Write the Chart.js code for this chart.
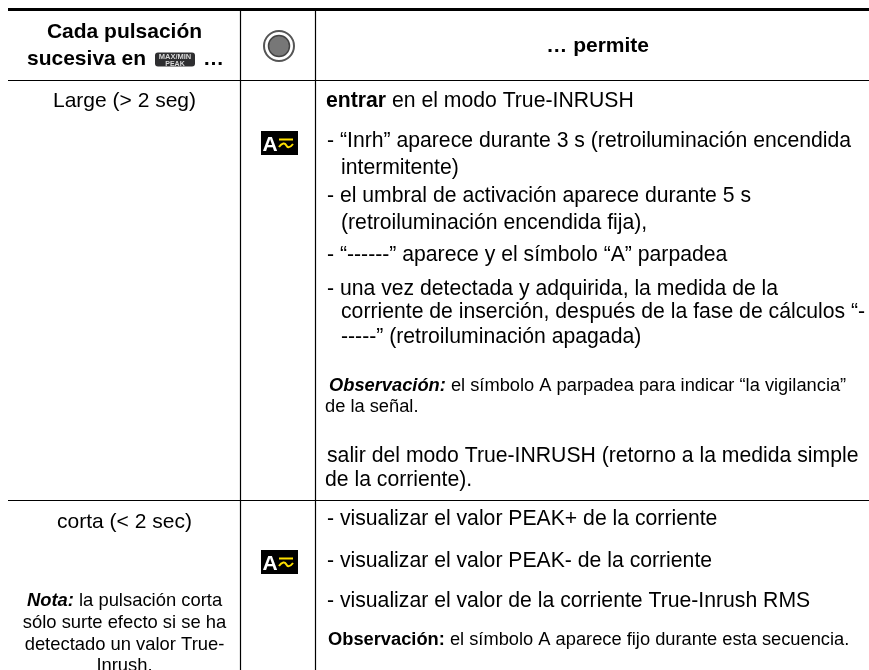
<!DOCTYPE html>
<html>
<head>
<meta charset="utf-8">
<title>Cada pulsación</title>
<script src="https://cdn.jsdelivr.net/npm/chart.js@4"></script>
<style>
body { margin: 0; background: #fff; }
canvas { display: block; }
</style>
</head>
<body>
<canvas id="tableChart" width="869" height="670"></canvas>
<script>
// table grid, in page units
const columnEdges = [240.5, 315.5];
const rowEdges = [80.5, 500.5];
const topRule = 9.5;
const tableLeft = 8;
const tableRight = 869;
const tableBottom = 670;

// <b> bold, <i> bold italic
const headerLeft = ["<b>Cada pulsación", "<b>sucesiva en"];
const headerRight = "<b>… permite";

const leftLines = ["Large (> 2 seg)", "corta (< 2 sec)"];
const leftLinesY = [107, 528];
const noteLines = ["<i>Nota:</i> la pulsación corta", "sólo surte efecto si se ha", "detectado un valor True-", "Inrush."];
const noteLinesY = [606, 628, 650, 671];

const rightLines = [
    "<b>entrar</b> en el modo True-INRUSH",
    "- “Inrh” aparece durante 3 s (retroiluminación encendida",
    "intermitente)",
    "- el umbral de activación aparece durante 5 s",
    "(retroiluminación encendida fija),",
    "- “------” aparece y el símbolo “A” parpadea",
    "- una vez detectada y adquirida, la medida de la",
    "corriente de inserción, después de la fase de cálculos “-",
    "-----” (retroiluminación apagada)",
    "salir del modo True-INRUSH (retorno a la medida simple",
    "de la corriente).",
    "- visualizar el valor PEAK+ de la corriente",
    "- visualizar el valor PEAK- de la corriente",
    "- visualizar el valor de la corriente True-Inrush RMS"
];
const rightLinesX = [326, 327, 341, 327, 341, 327, 327, 341, 341, 327, 325, 327, 327, 327];
const rightLinesY = [107, 147, 174, 202, 229, 261, 295, 318, 343, 462, 486, 525, 567, 607];

const smallLines = [
    "<i>Observación:</i> el símbolo A parpadea para indicar “la vigilancia”",
    "de la señal.",
    "<b>Observación:</b> el símbolo A aparece fijo durante esta secuencia."
];
const smallLinesX = [329, 325, 328];
const smallLinesY = [391, 412, 645];

const badgeTops = [131, 550];

const FONT = '"Liberation Sans", Arial, sans-serif';

function drawRich(ctx, line, x, y, size, align) {
    // split the line in runs of regular / bold / bold italic
    const parts = line.split(/(<b>|<\/b>|<i>|<\/i>)/);
    let style = "";
    const runs = [];
    for (const p of parts) {
        if (p === "<b>") style = "bold ";
        else if (p === "<i>") style = "italic bold ";
        else if (p === "</b>" || p === "</i>") style = "";
        else if (p !== "") runs.push({ text: p, font: style + size + "px " + FONT });
    }
    let width = 0;
    for (const r of runs) {
        ctx.font = r.font;
        r.width = ctx.measureText(r.text).width;
        width += r.width;
    }
    let cx = x;
    if (align === "center") cx = x - width / 2;
    if (align === "right") cx = x - width;
    ctx.textAlign = "left";
    ctx.textBaseline = "alphabetic";
    for (const r of runs) {
        ctx.font = r.font;
        ctx.fillText(r.text, cx, y);
        cx += r.width;
    }
}

function drawBadge(ctx, x, y) {
    ctx.fillStyle = "#000";
    ctx.fillRect(x, y, 37, 24);
    ctx.fillStyle = "#fff";
    ctx.font = "bold 21px " + FONT;
    ctx.textAlign = "left";
    ctx.fillText("A", x + 1.5, y + 20);
    ctx.strokeStyle = "#ffe000";
    ctx.lineWidth = 2;
    ctx.beginPath();
    ctx.moveTo(x + 18, y + 8.5);
    ctx.lineTo(x + 32, y + 8.5);
    ctx.moveTo(x + 18, y + 16);
    ctx.bezierCurveTo(x + 21, y + 11.5, x + 24, y + 12, x + 25, y + 14);
    ctx.bezierCurveTo(x + 26.5, y + 17, x + 29, y + 17, x + 32, y + 13);
    ctx.stroke();
}

function drawButton(ctx, x, y) {
    ctx.fillStyle = "#2e2e30";
    ctx.beginPath();
    ctx.roundRect(x, y, 40, 14, 3);
    ctx.fill();
    ctx.fillStyle = "#d8d8d8";
    ctx.font = "bold 7.5px " + FONT;
    ctx.textAlign = "center";
    ctx.fillText("MAX/MIN", x + 20, y + 6.5);
    ctx.font = "bold 7px " + FONT;
    ctx.fillText("PEAK", x + 20, y + 13);
}

function drawDial(ctx, x, y) {
    ctx.strokeStyle = "#555";
    ctx.lineWidth = 2;
    ctx.beginPath();
    ctx.arc(x, y, 15, 0, Math.PI * 2);
    ctx.stroke();
    ctx.fillStyle = "#777";
    ctx.strokeStyle = "#444";
    ctx.lineWidth = 1.5;
    ctx.beginPath();
    ctx.arc(x, y, 10.5, 0, Math.PI * 2);
    ctx.fill();
    ctx.stroke();
}

const tableText = {
    id: "tableText",
    afterDatasetsDraw(chart) {
        const ctx = chart.ctx;
        const sx = chart.scales.x;
        const sy = chart.scales.y;
        const px = v => sx.getPixelForValue(v);
        const py = v => sy.getPixelForValue(v);
        ctx.save();
        ctx.fillStyle = "#000";

        drawRich(ctx, headerLeft[0], px(124.5), py(38), 21, "center");
        drawRich(ctx, headerLeft[1], px(27), py(65), 21, "left");
        drawRich(ctx, "<b>…", px(203), py(65), 21, "left");
        drawRich(ctx, headerRight, px(649), py(52), 21, "right");

        leftLines.forEach((t, i) => drawRich(ctx, t, px(124.5), py(leftLinesY[i]), 21, "center"));
        noteLines.forEach((t, i) => drawRich(ctx, t, px(124.5), py(noteLinesY[i]), 18.4, "center"));
        rightLines.forEach((t, i) => drawRich(ctx, t, px(rightLinesX[i]), py(rightLinesY[i]), 21.2, "left"));
        smallLines.forEach((t, i) => drawRich(ctx, t, px(smallLinesX[i]), py(smallLinesY[i]), 18.3, "left"));

        badgeTops.forEach(t => drawBadge(ctx, px(261), py(t)));
        drawButton(ctx, px(155), py(52.5));
        drawDial(ctx, px(279), py(46));
        ctx.restore();
    }
};

const ruleStyle = { showLine: true, pointRadius: 0, borderColor: "#000", borderWidth: 1.2, clip: false };
const datasets = [
    { ...ruleStyle, label: "top", borderWidth: 3, data: [{ x: tableLeft, y: topRule }, { x: tableRight, y: topRule }] }
];
for (const y of rowEdges) {
    datasets.push({ ...ruleStyle, label: "row", data: [{ x: tableLeft, y: y }, { x: tableRight, y: y }] });
}
for (const x of columnEdges) {
    datasets.push({ ...ruleStyle, label: "column", data: [{ x: x, y: topRule }, { x: x, y: tableBottom }] });
}

const tableChart = new Chart(document.getElementById("tableChart").getContext("2d"), {
    type: "scatter",
    data: { datasets: datasets },
    options: {
        responsive: false,
        animation: false,
        layout: { padding: 0 },
        scales: {
            x: { type: "linear", display: false, min: 0, max: 869 },
            y: { type: "linear", display: false, min: 0, max: 670, reverse: true }
        },
        plugins: { legend: { display: false }, tooltip: { enabled: false } }
    },
    plugins: [tableText]
});
</script>
</body>
</html>
